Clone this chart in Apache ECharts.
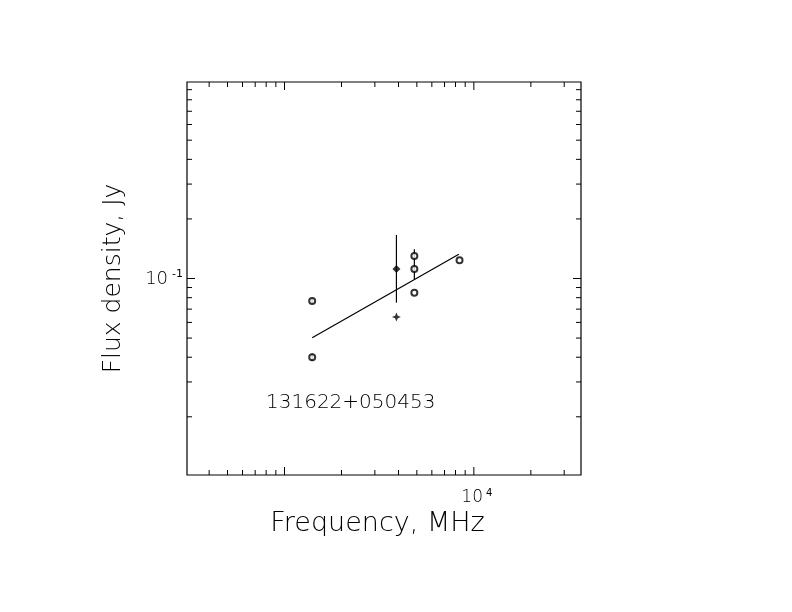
<!DOCTYPE html>
<html>
<head>
<meta charset="utf-8">
<script src="https://cdn.jsdelivr.net/npm/echarts@6/dist/echarts.min.js"></script>
<style>html,body{margin:0;padding:0;background:#fff;}#c{width:792px;height:612px;}</style>
</head>
<body>
<div id="c"></div>
<script>
// ---- data ----
const sourceName = '131622+050453';
const xTitle = 'Frequency, MHz';
const yTitle = 'Flux density, Jy';
const xRange = [305.5, 36800];
const yRange = [0.01016, 0.984];

// open circles
const circleFreq = [1400, 1400, 4850, 4850, 4850, 8400];
const circleFlux = [0.0770, 0.0400, 0.130, 0.1117, 0.0848, 0.1236];
// filled diamond
const diamondFreq = [3900];
const diamondFlux = [0.1117];
// star
const starFreq = [3900];
const starFlux = [0.0639];
// error bars
const errFreq = [3900, 4850, 1400, 1400];
const errLo   = [0.0755, 0.0991, 0.0383, 0.0745];
const errHi   = [0.166, 0.1406, 0.0418, 0.0795];
// fitted spectrum
const fitFreq = [1400, 8330];
const fitFlux = [0.0502, 0.1325];

// axis ticks
const xMajorTicks = [1000, 10000];
const xMinorTicks = [400, 500, 600, 700, 800, 900, 2000, 3000, 4000, 5000, 6000, 7000, 8000, 9000, 20000, 30000];
const yMajorTicks = [0.1];
const yMinorTicks = [0.02, 0.03, 0.04, 0.05, 0.06, 0.07, 0.08, 0.09, 0.2, 0.3, 0.4, 0.5, 0.6, 0.7, 0.8, 0.9];
const xLabelValues = [10000];
const yLabelValues = [0.1];

// ---- chart ----
const chart = echarts.init(document.getElementById('c'));
const isLabel = (v, list) => list.some(t => Math.abs(Math.log10(v) - Math.log10(t)) < 1e-6);
const expLabel = v => '{b|10}{s|' + Math.round(Math.log10(v)) + '}';

function xTickItem(params, api) {
  const v = api.value(0), major = api.value(1);
  const len = major ? 8 : 5;
  const b = api.coord([v, yRange[0]]), t = api.coord([v, yRange[1]]);
  const st = {stroke: '#000', lineWidth: 1};
  return {type: 'group', children: [
    {type: 'line', shape: {x1: b[0], y1: b[1], x2: b[0], y2: b[1] - len}, style: st},
    {type: 'line', shape: {x1: t[0], y1: t[1], x2: t[0], y2: t[1] + len}, style: st}
  ]};
}
function yTickItem(params, api) {
  const v = api.value(0), major = api.value(1);
  const len = major ? 8 : 5;
  const l = api.coord([xRange[0], v]), r = api.coord([xRange[1], v]);
  const st = {stroke: '#000', lineWidth: 1};
  return {type: 'group', children: [
    {type: 'line', shape: {x1: l[0], y1: l[1], x2: l[0] + len, y2: l[1]}, style: st},
    {type: 'line', shape: {x1: r[0], y1: r[1], x2: r[0] - len, y2: r[1]}, style: st}
  ]};
}
function errItem(params, api) {
  const x = api.value(0);
  const p1 = api.coord([x, api.value(1)]), p2 = api.coord([x, api.value(2)]);
  return {type: 'line', shape: {x1: p1[0], y1: p1[1], x2: p2[0], y2: p2[1]}, style: {stroke: '#000', lineWidth: 1.2}};
}

const zip = (a, b) => a.map((v, i) => [v, b[i]]);

chart.setOption({
  animation: false,
  backgroundColor: '#fff',
  grid: {left: 187, right: 211, top: 82, bottom: 137, show: true, borderColor: '#000', borderWidth: 1.2, backgroundColor: 'transparent'},
  xAxis: {
    type: 'log', logBase: 10, min: xRange[0], max: xRange[1],
    axisLine: {show: false}, axisTick: {show: false}, splitLine: {show: false}, minorTick: {show: false},
    axisLabel: {
      margin: 13, color: '#000', showMinLabel: false, showMaxLabel: false,
      formatter: v => isLabel(v, xLabelValues) ? expLabel(v) : '',
      rich: {
        b: {fontFamily: 'DejaVu Sans', fontWeight: 200, fontSize: 17, color: '#000', lineHeight: 18, verticalAlign: 'bottom', padding: [0, 0, 0, 6]},
        s: {fontFamily: 'DejaVu Sans', fontSize: 10, color: '#000', lineHeight: 18, verticalAlign: 'top', padding: [0, 0, 0, 3]}
      }
    },
    name: xTitle, nameLocation: 'middle', nameGap: 35,
    nameTextStyle: {fontFamily: 'DejaVu Sans', fontWeight: 200, fontSize: 27, color: '#000', padding: [0, 13, 0, 0]}
  },
  yAxis: {
    type: 'log', logBase: 10, min: yRange[0], max: yRange[1],
    axisLine: {show: false}, axisTick: {show: false}, splitLine: {show: false}, minorTick: {show: false},
    axisLabel: {
      margin: 4, color: '#000', showMinLabel: false, showMaxLabel: false,
      formatter: v => isLabel(v, yLabelValues) ? expLabel(v) : '',
      rich: {
        b: {fontFamily: 'DejaVu Sans', fontWeight: 200, fontSize: 18, color: '#000', lineHeight: 20, verticalAlign: 'bottom'},
        s: {fontFamily: 'DejaVu Sans', fontSize: 11, color: '#000', lineHeight: 20, verticalAlign: 'top', padding: [0, 0, 0, 4]}
      }
    },
    name: yTitle, nameLocation: 'middle', nameGap: 61,
    nameTextStyle: {fontFamily: 'DejaVu Sans', fontWeight: 200, fontSize: 25, color: '#000'}
  },
  graphic: [{
    type: 'text', left: 266, top: 393,
    style: {text: sourceName, fontFamily: 'DejaVu Sans', fontWeight: 200, fontSize: 20, fill: '#000'}
  }],
  series: [
    {type: 'custom', renderItem: xTickItem, clip: false, silent: true, z: 5,
     data: xMajorTicks.map(v => [v, 1]).concat(xMinorTicks.map(v => [v, 0])), encode: {x: 0}},
    {type: 'custom', renderItem: yTickItem, clip: false, silent: true, z: 5,
     data: yMajorTicks.map(v => [v, 1]).concat(yMinorTicks.map(v => [v, 0])), encode: {y: 0}},
    {type: 'line', data: zip(fitFreq, fitFlux), symbol: 'none', lineStyle: {color: '#000', width: 1.2}, z: 3},
    {type: 'custom', renderItem: errItem, z: 4,
     data: errFreq.map((f, i) => [f, errLo[i], errHi[i]]), encode: {x: 0, y: [1, 2]}},
    {type: 'scatter', data: zip(circleFreq, circleFlux), symbol: 'circle', symbolSize: 6,
     itemStyle: {color: '#fff', borderColor: '#000', borderWidth: 2}, z: 6},
    {type: 'scatter', data: zip(diamondFreq, diamondFlux), symbol: 'diamond', symbolSize: 8,
     itemStyle: {color: '#000'}, z: 6},
    {type: 'scatter', data: zip(starFreq, starFlux), symbol: 'path://M5,0 L6.5,3.5 L10,5 L6.5,6.5 L5,10 L3.5,6.5 L0,5 L3.5,3.5 Z', symbolSize: 9,
     itemStyle: {color: '#000'}, z: 6}
  ]
});
</script>
</body>
</html>
